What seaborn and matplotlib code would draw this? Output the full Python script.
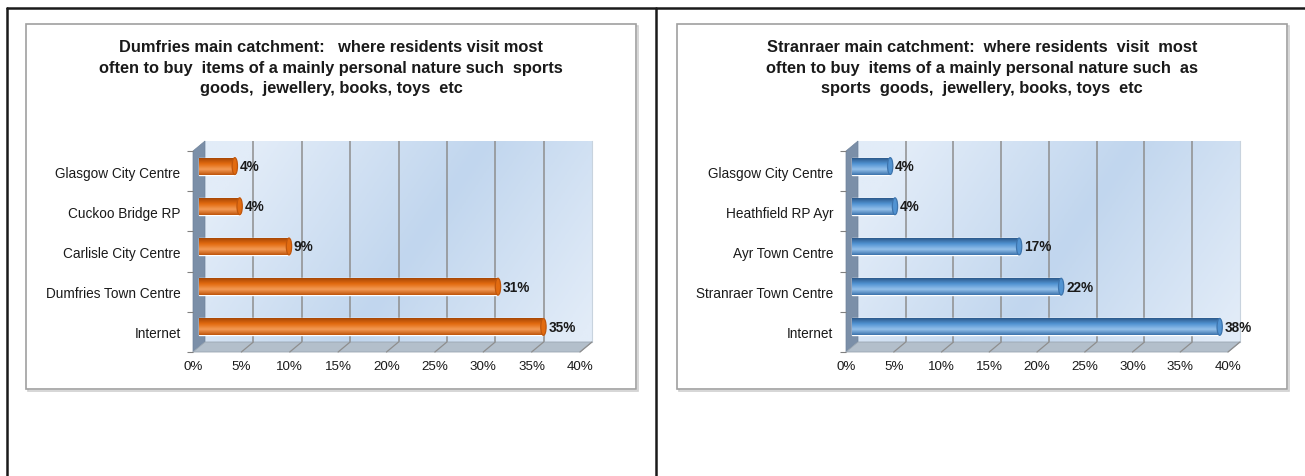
import numpy as np
import pandas as pd
import matplotlib
matplotlib.use("Agg")
import matplotlib.pyplot as plt
import matplotlib.transforms as mtransforms
from matplotlib.patches import Polygon, Rectangle, Ellipse
from matplotlib.lines import Line2D
from matplotlib.colors import LinearSegmentedColormap
import seaborn as sns

# data (top to bottom)
dumfries_places = ["Glasgow City Centre", "Cuckoo Bridge RP", "Carlisle City Centre",
                   "Dumfries Town Centre", "Internet"]
dumfries_pct = [3.7, 4.2, 9.3, 30.9, 35.6]
dumfries_labels = ["4%", "4%", "9%", "31%", "35%"]

stranraer_places = ["Glasgow City Centre", "Heathfield RP Ayr", "Ayr Town Centre",
                    "Stranraer Town Centre", "Internet"]
stranraer_pct = [4.0, 4.5, 17.5, 21.9, 38.5]
stranraer_labels = ["4%", "4%", "17%", "22%", "38%"]

x_ticks = [0, 5, 10, 15, 20, 25, 30, 35, 40]
x_tick_labels = ["0%", "5%", "10%", "15%", "20%", "25%", "30%", "35%", "40%"]

dumfries_title = ("Dumfries main catchment:   where residents visit most\n"
                  "often to buy  items of a mainly personal nature such  sports\n"
                  "goods,  jewellery, books, toys  etc")
stranraer_title = ("Stranraer main catchment:  where residents  visit  most\n"
                   "often to buy  items of a mainly personal nature such  as\n"
                   "sports  goods,  jewellery, books, toys  etc")

W, H = 1305, 477
DPI = 100
DX, DY = 12, 10  # 3d depth in pixels

sns.set_style("white")
plt.rcParams["font.family"] = ["Liberation Sans", "DejaVu Sans"]


def fx(px):
    return px / W


def fy(py):
    return 1 - py / H


def draw_chart(fig, box_left, front_left, front_right, places, pct, labels, title, colors):
    top, bottom = 152, 353
    # outer chart box (with a faint shadow) + title
    fig.add_artist(Rectangle((fx(box_left + 1.5), fy(391.5)), 610 / W, 365 / H,
                             transform=fig.transFigure, fill=False, edgecolor="#d0d0d0",
                             lw=1.2, zorder=-2))
    fig.add_artist(Rectangle((fx(box_left), fy(390)), 610 / W, 365 / H, transform=fig.transFigure,
                             facecolor="white", edgecolor="#a0a0a0", lw=1.2, zorder=-1))
    fig.text(fx(box_left + 305), fy(68), title, ha="center", va="center", fontsize=11.8,
             fontweight="bold", linespacing=1.48, color="#1a1a1a")

    rect = [fx(front_left), fy(bottom), (front_right - front_left) / W, (bottom - top) / H]

    # back wall
    ax_back = fig.add_axes([rect[0] + DX / W, rect[1] + DY / H, rect[2], rect[3]], zorder=0)
    gx, gy = np.meshgrid(np.linspace(0, 1, 200), np.linspace(0, 1, 100))
    t = np.clip(1 - np.abs(gx - 0.55 + 0.35 * (gy - 0.5)) * 1.7, 0, 1)
    wall_cmap = LinearSegmentedColormap.from_list("wall", ["#e2ecf8", "#c1d6ee"])
    ax_back.imshow(t, cmap=wall_cmap, extent=(0, 1, 0, 1), transform=ax_back.transAxes,
                   aspect="auto")
    ax_back.set_xlim(0, 40)
    ax_back.set_ylim(0, 1)
    ax_back.set_xticks(x_ticks[1:-1])
    ax_back.grid(axis="x", color="#8e8e8e", lw=1.1)
    ax_back.tick_params(length=0, labelbottom=False, labelleft=False)
    ax_back.set_yticks([])
    for s in ax_back.spines.values():
        s.set_visible(False)
    ax_back.spines["right"].set_visible(True)
    ax_back.spines["right"].set_color("#c8d3de")

    # left wall and floor
    x0, y0, w, h = rect
    dxf, dyf = DX / W, DY / H
    wall = Polygon([(x0, y0), (x0, y0 + h), (x0 + dxf, y0 + h + dyf), (x0 + dxf, y0 + dyf)],
                   closed=True, transform=fig.transFigure, facecolor="#7b8fa8",
                   edgecolor="#6f839b", lw=0.5, zorder=0.5)
    floor = Polygon([(x0, y0), (x0 + dxf, y0 + dyf), (x0 + w + dxf, y0 + dyf), (x0 + w, y0)],
                    closed=True, transform=fig.transFigure, facecolor="#b3bfcb",
                    edgecolor="#9aa6b2", lw=0.6, zorder=0.5)
    fig.add_artist(wall)
    fig.add_artist(floor)
    for v in x_ticks[1:]:
        xf = x0 + w * v / 40
        fig.add_artist(Line2D([xf, xf + dxf], [y0, y0 + dyf], transform=fig.transFigure,
                              color="#8e8e8e", lw=0.9, zorder=0.6))

    # front plane with the bars
    ax = fig.add_axes(rect, zorder=1)
    ax.patch.set_alpha(0)
    df = pd.DataFrame({"place": places, "pct": pct})
    sns.barplot(data=df, x="pct", y="place", orient="h", color=colors[2], width=0.42,
                ax=ax, saturation=1)
    ax.set_xlim(0, 40)
    ax.set_ylim(len(places) - 0.5, -0.5)

    off_mid = ax.transData + mtransforms.ScaledTranslation(DX / 2 / DPI, DY / 2 / DPI,
                                                          fig.dpi_scale_trans)
    cyl = LinearSegmentedColormap.from_list("cyl", colors)
    grad = np.linspace(1, 0, 50).reshape(-1, 1)
    for bar, lab in zip(list(ax.patches), labels):
        bar.set_transform(off_mid)
        bx, by, bw, bh = bar.get_x(), bar.get_y(), bar.get_width(), bar.get_height()
        im = ax.imshow(grad, cmap=cyl, extent=(bx, bx + bw, by + bh, by), origin="upper",
                       aspect="auto", zorder=2)
        im.set_transform(off_mid)
        im.set_clip_path(bar)
        ax.add_patch(Ellipse((bx + bw, by + bh / 2), 0.55, bh, transform=off_mid,
                             facecolor=colors[2], edgecolor=colors[0], lw=0.9, zorder=3))
        ax.text(bx + bw, by + bh / 2, lab,
                transform=off_mid + mtransforms.ScaledTranslation(5 / DPI, 0, fig.dpi_scale_trans),
                ha="left", va="center", fontsize=9.8, fontweight="bold", color="#1a1a1a")
    ax.set_xlim(0, 40)
    ax.set_ylim(len(places) - 0.5, -0.5)

    ax.set_xticks(x_ticks)
    ax.set_xticklabels(x_tick_labels)
    ax.set_yticks(np.arange(len(places)))
    ax.set_yticklabels(places)
    ax.set_yticks(np.arange(len(places) + 1) - 0.5, minor=True)
    ax.tick_params(axis="x", length=4, width=0.8, color="#808080", pad=2, labelsize=9.6,
                   labelcolor="#1a1a1a")
    ax.tick_params(axis="y", which="major", length=0, pad=9, labelsize=9.8, labelcolor="#1a1a1a")
    ax.tick_params(axis="y", which="minor", length=4, width=0.8, color="#808080", left=True)
    ax.set_xlabel("")
    ax.set_ylabel("")
    for s in ax.spines.values():
        s.set_visible(False)


fig = plt.figure(figsize=(W / DPI, H / DPI), dpi=DPI, facecolor="white")

# colour stops, top to bottom of each cylinder: [upper edge, highlight, body, lower edge]
orange = ["#c0560c", "#f39a55", "#e26b10", "#a84705"]
blue = ["#3d74ad", "#93c0ea", "#5193d2", "#2c5a8c"]
draw_chart(fig, 26, 193, 580, dumfries_places, dumfries_pct, dumfries_labels, dumfries_title,
           orange)
draw_chart(fig, 677, 846, 1228, stranraer_places, stranraer_pct, stranraer_labels,
           stranraer_title, blue)

# page frame lines
for xs, ys in [([fx(7), 1], [fy(9), fy(9)]), ([fx(7), fx(7)], [fy(9), 0]),
               ([fx(656), fx(656)], [fy(9), 0])]:
    fig.add_artist(Line2D(xs, ys, transform=fig.transFigure, color="#1a1a1a", lw=1.8))

fig.savefig("out.png", dpi=DPI)
